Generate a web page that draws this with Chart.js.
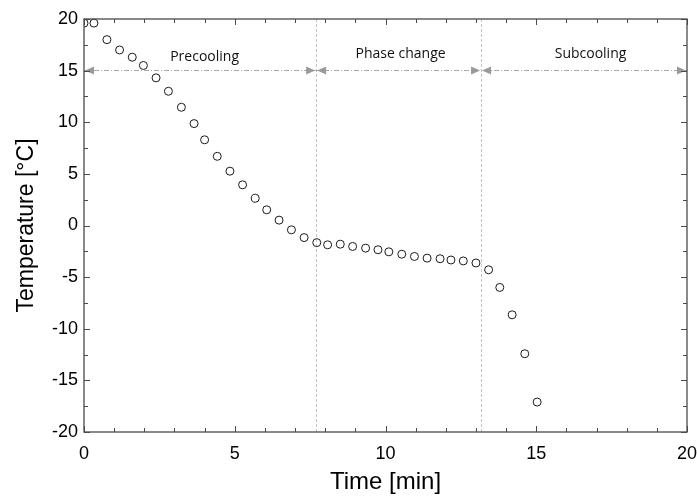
<!DOCTYPE html>
<html>
<head>
<meta charset="utf-8">
<script src="https://cdn.jsdelivr.net/npm/chart.js@4.4.1/dist/chart.umd.min.js"></script>
<style>
  html, body { margin: 0; padding: 0; background: #fff; }
  #wrap { width: 697px; height: 497px; }
</style>
</head>
<body>
<div id="wrap"><canvas id="chart" width="697" height="497"></canvas></div>
<script>
// time [min] and measured temperature [°C]
var timeMin = [0, 0.33, 0.76, 1.18, 1.6, 1.97, 2.39, 2.8, 3.23, 3.65, 4.0, 4.42, 4.84, 5.26, 5.68, 6.06, 6.47, 6.88, 7.3,
  7.72, 8.08, 8.5, 8.91, 9.34, 9.75, 10.11, 10.54, 10.96, 11.38, 11.81, 12.17, 12.58, 13.0,
  13.42, 13.79, 14.2, 14.62, 15.03];
var tempC = [19.6, 19.6, 18.0, 17.0, 16.3, 15.5, 14.3, 13.0, 11.45, 9.87, 8.3, 6.7, 5.26, 3.94, 2.64, 1.52, 0.52, -0.42, -1.17,
  -1.66, -1.87, -1.81, -2.03, -2.19, -2.35, -2.55, -2.78, -3.0, -3.16, -3.22, -3.34, -3.43, -3.63,
  -4.29, -6.0, -8.65, -12.42, -17.1];

// phases
var phaseNames = ['Precooling', 'Phase change', 'Subcooling'];
var phaseStart = [0, 7.7, 13.17];
var phaseEnd = [7.7, 13.17, 20];
var phaseLabelAt = [4.0, 10.5, 16.8];
var phaseLabelTemp = [16.3, 16.65, 16.65];
var phaseArrowTemp = 15.1;

var xTicks = [0, 5, 10, 15, 20];
var yTicks = [-20, -15, -10, -5, 0, 5, 10, 15, 20];

var points = timeMin.map(function(t, i){ return {x: t, y: tempC[i]}; });

var FONT = '"Liberation Sans", Arial, sans-serif';

// frame, inward ticks and phase annotations
var decor = {
  id: 'decor',
  beforeDatasetsDraw: function(chart){
    var ctx = chart.ctx, a = chart.chartArea;
    var xs = chart.scales.x, ys = chart.scales.y;
    ctx.save();
    // phase boundaries
    ctx.strokeStyle = '#c4c4c4';
    ctx.lineWidth = 1;
    ctx.setLineDash([3, 2]);
    [phaseStart[1], phaseStart[2]].forEach(function(v){
      var px = Math.round(xs.getPixelForValue(v)) + 0.5;
      ctx.beginPath(); ctx.moveTo(px, a.top); ctx.lineTo(px, a.bottom); ctx.stroke();
    });
    // dash-dot arrow line
    var py = Math.round(ys.getPixelForValue(phaseArrowTemp)) + 0.5;
    ctx.strokeStyle = '#a8a8a8';
    ctx.setLineDash([5, 2, 1, 2]);
    ctx.beginPath(); ctx.moveTo(a.left, py); ctx.lineTo(a.right, py); ctx.stroke();
    ctx.setLineDash([]);
    ctx.fillStyle = '#9a9a9a';
    var al = 9, ah = 4;
    phaseNames.forEach(function(name, i){
      var x0 = xs.getPixelForValue(phaseStart[i]) + 1;
      var x1 = xs.getPixelForValue(phaseEnd[i]) - 1;
      ctx.beginPath(); ctx.moveTo(x0, py); ctx.lineTo(x0 + al, py - ah); ctx.lineTo(x0 + al, py + ah); ctx.closePath(); ctx.fill();
      ctx.beginPath(); ctx.moveTo(x1, py); ctx.lineTo(x1 - al, py - ah); ctx.lineTo(x1 - al, py + ah); ctx.closePath(); ctx.fill();
    });
    ctx.fillStyle = '#111';
    ctx.font = '14px "Open Sans", "Noto Sans", sans-serif';
    ctx.textAlign = 'center';
    ctx.textBaseline = 'middle';
    phaseNames.forEach(function(name, i){
      ctx.fillText(name, xs.getPixelForValue(phaseLabelAt[i]), ys.getPixelForValue(phaseLabelTemp[i]));
    });
    ctx.restore();
  },
  afterDatasetsDraw: function(chart){
    var ctx = chart.ctx, a = chart.chartArea;
    var xs = chart.scales.x, ys = chart.scales.y;
    ctx.save();
    ctx.strokeStyle = '#4a4a4a';
    ctx.lineWidth = 1.3;
    ctx.strokeRect(a.left, a.top, a.right - a.left, a.bottom - a.top);
    ctx.lineWidth = 1;
    ctx.beginPath();
    for (var v = 0; v <= 20; v += 1){
      var px = Math.round(xs.getPixelForValue(v)) + 0.5;
      var len = v % 5 === 0 ? 6 : 4;
      ctx.moveTo(px, a.bottom); ctx.lineTo(px, a.bottom - len);
      ctx.moveTo(px, a.top); ctx.lineTo(px, a.top + len);
    }
    for (var w = -20; w <= 20; w += 2.5){
      var py = Math.round(ys.getPixelForValue(w)) + 0.5;
      var l2 = w % 5 === 0 ? 6 : 4;
      ctx.moveTo(a.left, py); ctx.lineTo(a.left + l2, py);
      ctx.moveTo(a.right, py); ctx.lineTo(a.right - l2, py);
    }
    ctx.stroke();
    ctx.restore();
  }
};

new Chart(document.getElementById('chart'), {
  type: 'scatter',
  data: {
    datasets: [{
      data: points,
      showLine: false,
      pointStyle: 'circle',
      pointRadius: 4,
      pointHoverRadius: 4,
      pointBorderWidth: 1,
      pointBorderColor: '#1a1a1a',
      pointBackgroundColor: 'rgba(255,255,255,0)',
      clip: {left: 0, top: 6, right: 6, bottom: 6}
    }]
  },
  options: {
    responsive: false,
    animation: false,
    devicePixelRatio: 1,
    layout: {padding: {top: 19, right: 10, left: 0, bottom: 0}},
    plugins: {legend: {display: false}, tooltip: {enabled: false}},
    scales: {
      x: {
        type: 'linear', min: 0, max: 20,
        afterFit: function(s){ s.height = 65; s.paddingLeft = 0; s.paddingRight = 0; },
        afterBuildTicks: function(s){ s.ticks = xTicks.map(function(v){ return {value: v}; }); },
        grid: {display: false, drawTicks: false},
        border: {display: false},
        ticks: {color: '#000', font: {family: FONT, size: 18}, padding: 11, maxRotation: 0},
        title: {display: true, text: 'Time [min]', color: '#000', font: {family: FONT, size: 24}, padding: 0}
      },
      y: {
        type: 'linear', min: -20, max: 20,
        afterFit: function(s){ s.width = 84; s.paddingTop = 0; s.paddingBottom = 0; },
        afterBuildTicks: function(s){ s.ticks = yTicks.map(function(v){ return {value: v}; }); },
        grid: {display: false, drawTicks: false},
        border: {display: false},
        ticks: {color: '#000', font: {family: FONT, size: 18}, padding: 6},
        title: {display: true, text: 'Temperature [°C]', color: '#000', font: {family: FONT, size: 23}, padding: 13}
      }
    }
  },
  plugins: [decor]
});
</script>
</body>
</html>
